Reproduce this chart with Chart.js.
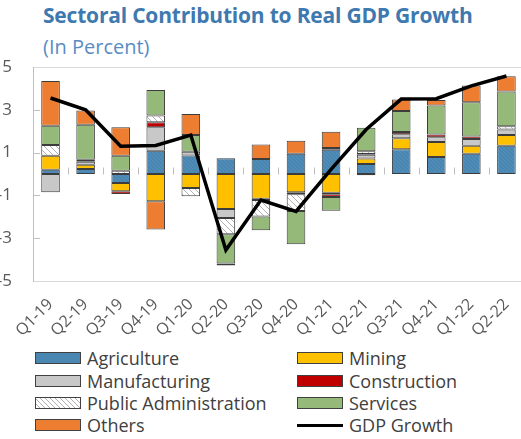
<!DOCTYPE html>
<html>
<head>
<meta charset="utf-8">
<script src="https://cdn.jsdelivr.net/npm/chart.js@4/dist/chart.umd.min.js"></script>
<style>
  html, body { margin: 0; padding: 0; background: #fff; overflow: hidden; width: 521px; height: 439px; }
  body { position: relative; font-family: "Open Sans", "Noto Sans", sans-serif; }
  #title { position: absolute; left: 43px; top: 1px; font-size: 21px; font-weight: 700; color: #3e79b0; letter-spacing: -0.2px; white-space: nowrap; }
  #subtitle { position: absolute; left: 43px; top: 33px; font-size: 20px; color: #5a8cc4; white-space: nowrap; }
  #chart { position: absolute; left: 0; top: 0; }
  #legend { position: absolute; left: 35px; top: 347px; width: 480px; display: grid; grid-template-columns: 262px 200px; row-gap: 0; }
  .item { display: flex; align-items: center; height: 22.4px; font-size: 18px; color: #404040; white-space: nowrap; }
  .swatch { width: 44px; height: 10px; border: 1.5px solid #404040; margin-right: 6px; flex: none; }
  .line { width: 46px; height: 3px; background: #000; margin-right: 6px; flex: none; }
</style>
</head>
<body>
<div id="title">Sectoral Contribution to Real GDP Growth</div>
<div id="subtitle">(In Percent)</div>
<canvas id="chart" width="526" height="345" style="width:526px;height:345px"></canvas>
<div id="legend"></div>
<script>
var quarters = ['Q1-19', 'Q2-19', 'Q3-19', 'Q4-19', 'Q1-20', 'Q2-20', 'Q3-20',
  'Q4-20', 'Q1-21', 'Q2-21', 'Q3-21', 'Q4-21', 'Q1-22', 'Q2-22'];

// sector contributions, percentage points (null = no segment)
var agriculture   = [0.20, 0.23, -0.42, 1.09, 0.87, 0.74, 0.70, 0.95, 1.13, 0.47, 1.16, 0.79, 0.95, 1.32];
var mining        = [0.65, 0.20, -0.39, -1.27, -0.65, -1.63, -1.16, -0.85, -0.88, 0.26, 0.51, 0.70, 0.37, 0.50];
var manufacturing = [-0.85, 0.14, null, 1.10, 0.17, -0.43, -0.05, -0.10, -0.07, 0.17, 0.19, 0.23, 0.31, 0.26];
var construction  = [null, null, -0.12, 0.23, null, null, null, null, -0.12, 0.04, 0.10, 0.12, 0.12, null];
var publicAdmin   = [0.50, 0.10, 0.15, 0.31, -0.39, -0.76, -0.78, -0.78, 0.09, 0.12, null, null, null, 0.15];
var services      = [0.90, 1.63, 0.70, 1.19, 0.78, -1.36, -0.64, -1.55, -0.65, 1.10, 0.98, 1.36, 1.60, 1.63];
var others        = [2.10, 0.67, 1.33, -1.32, 0.98, -0.10, 0.68, 0.60, 0.76, -0.06, 0.54, 0.26, 0.78, 0.71];
var gdpGrowth     = [3.55, 3.00, 1.30, 1.33, 1.82, -3.55, -1.22, -1.75, 0.22, 2.08, 3.50, 3.52, 4.12, 4.58];

var yTicks = [-5, -3, -1, 1, 3, 5];

function hatch(bg, line, size) {
  var c = document.createElement('canvas');
  c.width = size; c.height = size;
  var g = c.getContext('2d');
  g.fillStyle = bg;
  g.fillRect(0, 0, size, size);
  g.strokeStyle = line;
  g.lineWidth = 1;
  g.beginPath();
  g.moveTo(-1, -1); g.lineTo(size + 1, size + 1);
  g.moveTo(-1, size - 1); g.lineTo(1, size + 1);
  g.moveTo(size - 1, -1); g.lineTo(size + 1, 1);
  g.stroke();
  return g.createPattern(c, 'repeat');
}

var sectors = [
  { label: 'Agriculture', data: agriculture, fill: hatch('#4a86b2', '#5590bb', 4), swatch: '#4a86b2' },
  { label: 'Mining', data: mining, fill: '#ffc000', swatch: '#ffc000' },
  { label: 'Manufacturing', data: manufacturing, fill: '#c8c8c8', swatch: '#c8c8c8' },
  { label: 'Construction', data: construction, fill: '#c00000', swatch: '#c00000' },
  { label: 'Public Administration', data: publicAdmin, fill: hatch('#ffffff', '#b0b0b0', 6),
    swatch: 'repeating-linear-gradient(45deg, #fff 0 2.5px, #b0b0b0 2.5px 3.5px)' },
  { label: 'Services', data: services, fill: '#95b978', swatch: '#95b978' },
  { label: 'Others', data: others, fill: '#ed7d31', swatch: '#ed7d31' }
];

var datasets = sectors.map(function (s) {
  return {
    type: 'bar',
    label: s.label,
    data: s.data,
    backgroundColor: s.fill,
    borderColor: '#3c3c3c',
    borderWidth: 1,
    borderSkipped: false,
    stack: 'sectors',
    order: 1,
    categoryPercentage: 1,
    barPercentage: 0.53
  };
});
datasets.push({
  type: 'line',
  label: 'GDP Growth',
  data: gdpGrowth,
  borderColor: '#000',
  borderWidth: 3.5,
  pointRadius: 0,
  tension: 0,
  fill: false,
  stack: 'gdp',
  order: 0
});

// zero line ticks between categories and short inward ticks on the value axis
var axisMarks = {
  id: 'axisMarks',
  beforeDatasetsDraw: function (chart) {
    var ctx = chart.ctx, x = chart.scales.x, y = chart.scales.y;
    var zero = Math.round(y.getPixelForValue(0)) + 0.5;
    ctx.save();
    ctx.strokeStyle = '#bfbfbf';
    ctx.lineWidth = 1;
    ctx.beginPath();
    for (var i = 1; i < quarters.length; i++) {
      var px = Math.round((x.getPixelForValue(i - 1) + x.getPixelForValue(i)) / 2) + 0.5;
      ctx.moveTo(px, zero);
      ctx.lineTo(px, zero - 7);
    }
    [-3, -1, 1, 3].forEach(function (v) {
      var py = Math.round(y.getPixelForValue(v)) + 0.5;
      ctx.moveTo(chart.chartArea.left, py);
      ctx.lineTo(chart.chartArea.left + 7, py);
    });
    ctx.stroke();
    ctx.restore();
  }
};

new Chart(document.getElementById('chart'), {
  data: { labels: quarters, datasets: datasets },
  plugins: [axisMarks],
  options: {
    responsive: false,
    animation: false,
    layout: { padding: { top: 67, left: 0, right: 0, bottom: 0 } },
    plugins: { legend: { display: false }, tooltip: { enabled: false } },
    scales: {
      x: {
        stacked: true,
        offset: true,
        grid: { display: false },
        border: { display: false },
        ticks: {
          autoSkip: false,
          maxRotation: 45,
          minRotation: 45,
          padding: 6,
          color: '#595959',
          font: { family: 'Open Sans', size: 16 }
        },
        afterFit: function (scale) { scale.height = 64; }
      },
      y: {
        stacked: true,
        min: -5,
        max: 5,
        afterBuildTicks: function (scale) {
          scale.ticks = yTicks.map(function (v) { return { value: v }; });
        },
        grid: {
          drawTicks: false,
          lineWidth: 1,
          color: function (c) {
            if (c.tick.value === 0) return '#bfbfbf';
            if (Math.abs(c.tick.value) === 5) return '#d9d9d9';
            return 'rgba(0,0,0,0)';
          }
        },
        border: { display: true, color: '#bfbfbf' },
        ticks: {
          padding: 21,
          color: '#595959',
          font: { family: 'Open Sans', size: 17 }
        },
        afterFit: function (scale) { scale.width = 33; }
      }
    }
  }
});

var legendEl = document.getElementById('legend');
var legendItems = sectors.map(function (s) { return { label: s.label, swatch: s.swatch }; });
legendItems.push({ label: 'GDP Growth', line: true });
legendItems.forEach(function (it) {
  var row = document.createElement('div');
  row.className = 'item';
  var mark = document.createElement('span');
  if (it.line) {
    mark.className = 'line';
  } else {
    mark.className = 'swatch';
    mark.style.background = it.swatch;
  }
  row.appendChild(mark);
  row.appendChild(document.createTextNode(it.label));
  legendEl.appendChild(row);
});
</script>
</body>
</html>
